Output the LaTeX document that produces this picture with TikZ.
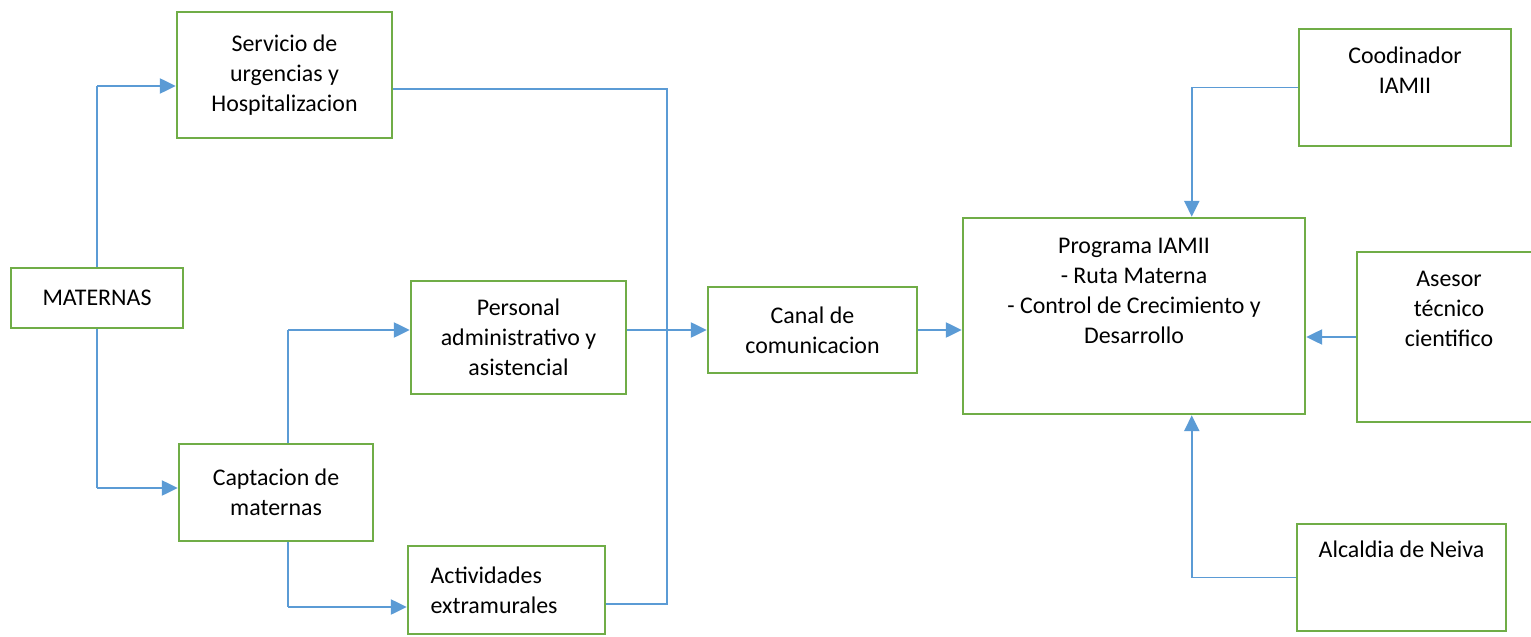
\documentclass[tikz,border=0pt]{standalone}
\usepackage{fontspec}
\setmainfont{Carlito}
\usetikzlibrary{arrows.meta,positioning}
\definecolor{boxgreen}{HTML}{70AD47}
\definecolor{linkblue}{HTML}{5B9BD5}
\tikzset{
    box/.style={draw=boxgreen, line width=1.4pt, inner sep=0pt, align=center},
    txt/.style={inner sep=0pt, align=center},
    wire/.style={draw=linkblue, line width=0.6pt},
    arr/.style={draw=linkblue, line width=1.4pt, -{Triangle[length=0.32cm,width=0.3cm]}}
}
\begin{document}
\begin{tikzpicture}[font=\fontsize{13.6}{17.1}\selectfont]
        \useasboundingbox (0,0) rectangle (30.62,12.72);
        %% Left column
        \node[box, minimum width=3.44cm, minimum height=1.2cm] (maternas) at (1.94,6.76) {MATERNAS};
        \node[box, minimum width=4.3cm, minimum height=2.52cm] (servicio) at (5.69,11.22) {Servicio de\\urgencias y\\Hospitalizacion};
        \node[box, minimum width=3.88cm, minimum height=1.94cm] (captacion) at (5.52,2.87) {Captacion de\\maternas};
        %% Middle column
        \node[box, minimum width=4.3cm, minimum height=2.26cm] (personal) at (10.37,5.97) {Personal\\administrativo y\\asistencial};
        \node[box, minimum width=3.94cm, minimum height=1.76cm] (activ) at (10.13,0.92) {};
        \node[txt, align=left, right=0.47cm of activ.west] (activtxt) {Actividades\\extramurales};
        \node[box, minimum width=4.18cm, minimum height=1.72cm] (canal) at (16.25,6.12) {Canal de\\comunicacion};
        %% Right column
        \node[box, minimum width=6.84cm, minimum height=3.92cm] (prog) at (22.68,6.4) {};
        \node[txt] (progtxt) at ([yshift=-1.49cm]prog.north) {Programa IAMII\\- Ruta Materna\\- Control de Crecimiento y\\Desarrollo};
        \node[box, minimum width=4.24cm, minimum height=2.34cm] (coord) at (28.1,10.97) {};
        \node[txt] (coordtxt) at ([yshift=-0.85cm]coord.north) {Coodinador\\IAMII};
        \node[box, minimum width=3.68cm, minimum height=3.4cm] (asesor) at (28.98,5.98) {};
        \node[txt] (asesortxt) at ([yshift=-1.17cm]asesor.north) {Asesor\\técnico\\cientifico};
        \node[box, minimum width=4.18cm, minimum height=2.14cm] (alcaldia) at (28.03,1.17) {};
        \node[txt] (alcaldiatxt) at ([yshift=-0.54cm]alcaldia.north) {Alcaldia de Neiva};
        %% Connectors, left
        \coordinate (a1) at ([yshift=-0.22cm]servicio.west);
        \draw[wire] (maternas.north) -- (maternas.north |- a1);
        \draw[arr] (maternas.north |- a1) -- (a1);
        \coordinate (a2) at ([yshift=0.09cm]captacion.west);
        \draw[wire] (maternas.south) -- (maternas.south |- a2);
        \draw[arr] (maternas.south |- a2) -- (a2);
        \coordinate (a3) at ([yshift=0.15cm]personal.west);
        \draw[wire] ([xshift=0.24cm]captacion.north) -- ([xshift=0.24cm]captacion.north |- a3);
        \draw[arr] ([xshift=0.24cm]captacion.north |- a3) -- (a3);
        \coordinate (a4) at ([yshift=-0.34cm]activ.west);
        \draw[wire] ([xshift=0.24cm]captacion.south) -- ([xshift=0.24cm]captacion.south |- a4);
        \draw[arr] ([xshift=0.24cm]captacion.south |- a4) -- (a4);
        %% Collector line
        \coordinate (bus) at (13.34,0.64);
        \draw[wire] ([yshift=-0.28cm]servicio.east) -| (bus) -- ([yshift=-0.28cm]activ.east);
        \draw[arr] (canal.west -| personal.east) -- (canal.west);
        \draw[arr] (canal.east) -- (canal.east -| prog.west);
        %% Connectors, right
        \draw[wire] (coord.west) -- ++(-2.12,0) coordinate (c1);
        \draw[arr] (c1) -- (c1 |- prog.north);
        \draw[arr] (asesor.west) -- (asesor.west -| prog.east);
        \draw[wire] (alcaldia.west) -- ++(-2.08,0) coordinate (c2);
        \draw[arr] (c2) -- (c2 |- prog.south);
    \end{tikzpicture}
\end{document}
